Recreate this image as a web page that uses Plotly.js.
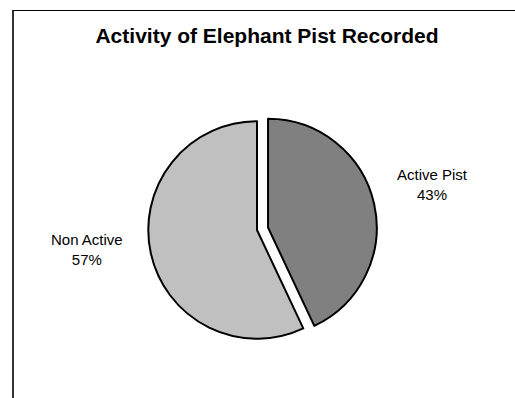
<!DOCTYPE html>
<html>
<head>
<meta charset="utf-8">
<script src="https://cdn.plot.ly/plotly-3.0.1.min.js"></script>
<style>
  html, body { margin: 0; padding: 0; background: #fff; overflow: hidden; }
  #wrap { position: relative; width: 515px; height: 398px; overflow: hidden; }
  #chart { position: absolute; left: 0; top: 0; width: 515px; height: 398px; }
  #frame {
    position: absolute; left: 12px; top: 10px; right: -20px; bottom: -20px;
    border-left: 2px solid #333; border-top: 1px solid #000;
    pointer-events: none;
  }
</style>
</head>
<body>
<div id="wrap">
  <div id="chart"></div>
  <div id="frame"></div>
</div>
<script>
// Elephant pist activity counts (percent of pists recorded)
const categories = ["Active Pist", "Non Active"];
const values = [43, 57];
const sliceColors = ["#808080", "#c0c0c0"];
const pulls = [0.104, 0];

// Label placement beside each slice (paper fractions)
const labelPos = [
  { x: 432 / 515, y: 1 - 185 / 398 },
  { x: 87 / 515, y: 1 - 249 / 398 }
];

const total = values.reduce((a, b) => a + b, 0);
const font = "Liberation Sans, Arial, Helvetica, sans-serif";

const annotations = categories.map((c, i) => ({
  text: c + "<br>" + Math.round(values[i] / total * 100) + "%",
  x: labelPos[i].x, y: labelPos[i].y,
  xref: "paper", yref: "paper",
  xanchor: "center", yanchor: "middle",
  showarrow: false,
  font: { family: font, size: 15, color: "#000" }
}));

const trace = {
  type: "pie",
  labels: categories,
  values: values,
  sort: false,
  direction: "clockwise",
  rotation: 0,
  pull: pulls,
  textinfo: "none",
  hoverinfo: "label+percent",
  marker: { colors: sliceColors, line: { color: "#000", width: 2 } },
  domain: { x: [137 / 515, 377 / 515], y: [48 / 398, 288 / 398] },
  showlegend: false
};

const layout = {
  width: 515, height: 398,
  margin: { l: 0, r: 0, t: 0, b: 0 },
  paper_bgcolor: "#fff",
  title: {
    text: "Activity of Elephant Pist Recorded",
    font: { family: font, size: 21, color: "#000", weight: "bold" },
    x: 267 / 515, xanchor: "center",
    y: 1 - 36 / 398, yanchor: "middle"
  },
  annotations: annotations,
  showlegend: false
};

Plotly.newPlot("chart", [trace], layout, { displayModeBar: false, staticPlot: true });
</script>
</body>
</html>
